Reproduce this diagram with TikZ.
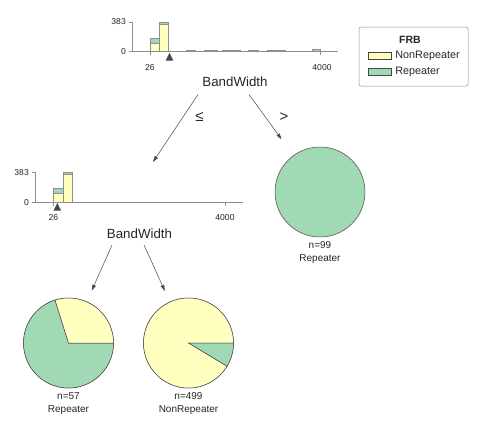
\documentclass[tikz,border=0pt]{standalone}
\usepackage{fontspec}
\setmainfont{Liberation Sans}
\usetikzlibrary{arrows.meta,positioning}
\definecolor{NonRepYellow}{HTML}{FFFFBF}
\definecolor{RepGreen}{HTML}{A1D9B5}
\definecolor{AxisGray}{HTML}{8E8E8E}
\definecolor{EdgeGray}{HTML}{474747}
\definecolor{TextDark}{HTML}{262626}

\begin{document}
\begin{tikzpicture}[
    x=1pt, y=1pt,
    every node/.style={text=TextDark, font=\fontsize{10}{12}\selectfont},
    splitlabel/.style={font=\fontsize{13.3}{16}\selectfont, inner sep=0pt},
    ticklabel/.style={font=\fontsize{8.6}{10}\selectfont, inner sep=0pt},
    edgelabel/.style={font=\fontsize{15}{18}\selectfont, inner sep=0pt},
    leaflabel/.style={align=center, font=\fontsize{10}{12.5}\selectfont, inner sep=0pt},
    axisline/.style={draw=AxisGray, line width=0.6pt},
    nrbar/.style={fill=NonRepYellow, draw=AxisGray, line width=0.4pt},
    rpbar/.style={fill=RepGreen, draw=AxisGray, line width=0.4pt},
    flatbar/.style={fill=RepGreen!70!black, draw=AxisGray, line width=0.2pt},
    marker/.style={fill=EdgeGray},
    pie/.style={circle, minimum size=90pt, inner sep=0pt, draw=EdgeGray, line width=0.5pt},
    slice/.style={draw=EdgeGray, line width=0.5pt},
    edge/.style={-{Triangle[length=6pt,width=3.6pt]}, draw=EdgeGray, line width=0.5pt},
    legendbox/.style={draw=AxisGray, rounded corners=2pt, minimum width=109pt, minimum height=59pt, line width=0.5pt},
    swatch/.style={draw=EdgeGray, line width=0.4pt, minimum width=23pt, minimum height=7pt, inner sep=0pt}
  ]
    \useasboundingbox (0,0) rectangle (498,-423);

    % top histogram
    \draw[axisline] (132,-22) -- (132,-51.3) -- (338,-51.3);
    \draw[axisline] (128.5,-22) -- (132,-22);
    \draw[axisline] (128.5,-51.3) -- (132,-51.3);
    \draw[axisline] (150,-51.3) -- (150,-54.5);
    \draw[axisline] (320,-51.3) -- (320,-54.5);
    \node[ticklabel, anchor=east] (y383a) at (126,-22) {383};
    \node[ticklabel, anchor=east] (y0a) at (126,-51.3) {0};
    \node[ticklabel] (x26a) at (150,-68) {26};
    \node[ticklabel] (x4000a) at (322,-68) {4000};
    \filldraw[nrbar] (150,-51.3) rectangle (159,-43);
    \filldraw[rpbar] (150,-43) rectangle (159,-38);
    \filldraw[nrbar] (159,-51.3) rectangle (168.5,-24.4);
    \filldraw[rpbar] (159,-24.4) rectangle (168.5,-22.3);
    \foreach \a/\b in {186/195, 204/217, 222/240, 248/258, 267/285}
      \filldraw[flatbar] (\a,-51.3) rectangle (\b,-50.3);
    \filldraw[rpbar] (312,-51.3) rectangle (320,-49.3);
    \fill[marker] (169.5,-52.8) -- (173.3,-60.5) -- (165.7,-60.5) -- cycle;
    \node[splitlabel] (bwroot) at (235,-82) {BandWidth};

    % legend
    \node[legendbox] (legend) at (413.5,-56.5) {};
    \node[font=\fontsize{10.5}{12}\selectfont\bfseries, inner sep=0pt] (legtitle) at (410,-40) {FRB};
    \node[swatch, fill=NonRepYellow] (swnr) at (379.5,-55.5) {};
    \node[swatch, fill=RepGreen] (swrp) at (379.5,-71.5) {};
    \node[right=4pt of swnr, inner sep=0pt, font=\fontsize{10.8}{12}\selectfont] (legnr) {NonRepeater};
    \node[right=4pt of swrp, inner sep=0pt, font=\fontsize{10.8}{12}\selectfont] (legrp) {Repeater};

    % second histogram
    \draw[axisline] (35,-172.3) -- (35,-202.3) -- (242.7,-202.3);
    \draw[axisline] (31.5,-172.3) -- (35,-172.3);
    \draw[axisline] (31.5,-202.3) -- (35,-202.3);
    \draw[axisline] (53.3,-202.3) -- (53.3,-205.5);
    \draw[axisline] (225,-202.3) -- (225,-205.5);
    \node[ticklabel, anchor=east] (y383b) at (29,-172.3) {383};
    \node[ticklabel, anchor=east] (y0b) at (29,-202.3) {0};
    \node[ticklabel] (x26b) at (53.5,-217.5) {26};
    \node[ticklabel] (x4000b) at (225,-217.5) {4000};
    \filldraw[nrbar] (53.3,-202.3) rectangle (62.7,-193.3);
    \filldraw[rpbar] (53.3,-193.3) rectangle (62.7,-188.3);
    \filldraw[nrbar] (62.7,-202.3) rectangle (72.3,-174.3);
    \filldraw[rpbar] (62.7,-174.3) rectangle (72.3,-172.3);
    \fill[marker] (57.3,-203) -- (61.1,-210.5) -- (53.5,-210.5) -- cycle;
    \node[splitlabel] (bwleft) at (139.5,-234) {BandWidth};

    % leaves
    \node[pie, fill=RepGreen] (leafbig) at (320,-192) {};
    \node[leaflabel, below=4.5pt of leafbig] (leafbigtxt) {n=99\\Repeater};

    \node[pie] (leafrep) at (68.5,-343) {};
    \filldraw[slice, fill=RepGreen] (leafrep.center) -- ++(107.4:45pt) arc[start angle=107.4, end angle=360, radius=45pt] -- cycle;
    \filldraw[slice, fill=NonRepYellow] (leafrep.center) -- ++(0:45pt) arc[start angle=0, end angle=107.4, radius=45pt] -- cycle;
    \node[leaflabel, below=4.5pt of leafrep] (leafreptxt) {n=57\\Repeater};

    \node[pie] (leafnr) at (188.5,-343) {};
    \filldraw[slice, fill=NonRepYellow] (leafnr.center) -- ++(0:45pt) arc[start angle=0, end angle=329, radius=45pt] -- cycle;
    \filldraw[slice, fill=RepGreen] (leafnr.center) -- ++(-31:45pt) arc[start angle=-31, end angle=0, radius=45pt] -- cycle;
    \node[leaflabel, below=4.5pt of leafnr] (leafnrtxt) {n=499\\NonRepeater};

    % edges
    \coordinate (rootle) at (198,-94.5);
    \coordinate (rootgt) at (249,-94.5);
    \coordinate (hist2in) at (153,-162);
    \coordinate (leftle) at (112,-245);
    \coordinate (leftgt) at (144,-245);
    \draw[edge] (rootle) -- (hist2in);
    \draw[edge, shorten >=20pt] (rootgt) -- (leafbig);
    \draw[edge, shorten >=12pt] (leftle) -- (leafrep);
    \draw[edge, shorten >=12pt] (leftgt) -- (leafnr);
    \node[edgelabel] (lbl1) at (199.5,-117) {≤};
    \node[edgelabel] (lbl2) at (284,-117) {>};
  \end{tikzpicture}
\end{document}
